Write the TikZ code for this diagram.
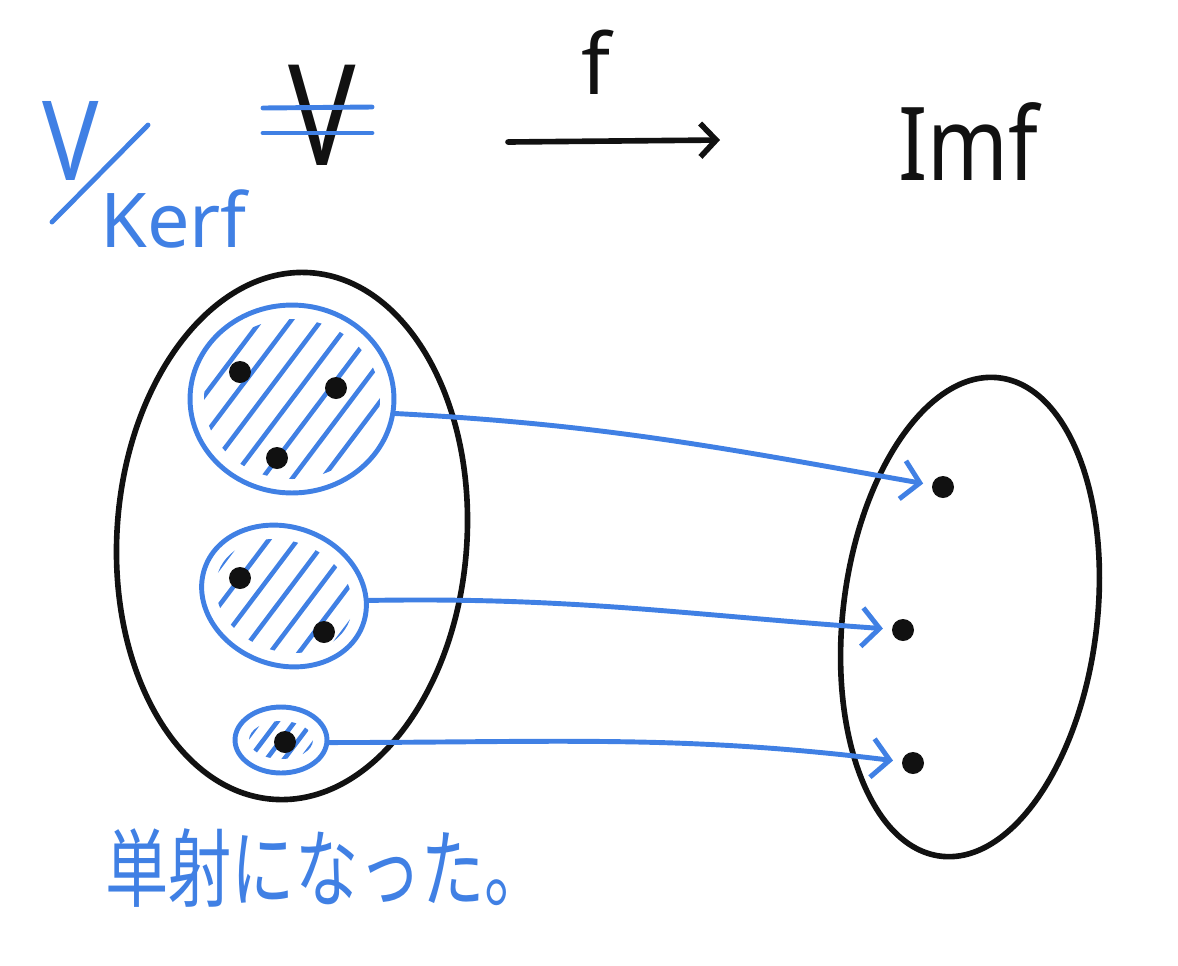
\documentclass[tikz,border=0pt]{standalone}
\usepackage{fontspec}
\setmainfont{Noto Sans}
\newfontfamily\jpfont{Noto Sans CJK JP}
\usetikzlibrary{arrows.meta,shapes.geometric}
\definecolor{penblue}{HTML}{4080E4}
\definecolor{penink}{HTML}{111111}

\begin{document}
\begin{tikzpicture}[x=0.02cm, y=-0.02cm,
    ink/.style={penink, line width=3.2pt, line cap=round},
    blueink/.style={penblue, line width=2.8pt, line cap=round},
    setshape/.style={ellipse, draw=penink, line width=3.2pt, inner sep=0pt},
    classshape/.style={ellipse, draw=penblue, line width=2.8pt, inner sep=0pt},
    elem/.style={circle, fill=penink, inner sep=0pt, minimum size=0.44cm},
    hatch/.style={penblue, line width=2.6pt, line cap=round},
    maparrow/.style={blueink, -{Straight Barb[length=10pt,width=22pt]},
                     shorten >=5pt},
    hand/.style={inner sep=0pt}]

\useasboundingbox (0,0) rectangle (1178,965);

% --- top line: quotient, V, the map f and its image -----------------------
\node[hand, penblue, anchor=base west, xscale=0.85, font=\fontsize{63}{63}\selectfont]
  (quotnum) at (42,180) {V};
\draw[blueink] (52,222) -- (148,125);
\node[hand, penblue, anchor=base west, font=\fontsize{43}{43}\selectfont]
  (quotden) at (100,247) {Kerf};
\node[hand, penink, anchor=base, xscale=0.8, font=\fontsize{80}{80}\selectfont]
  (domain) at (322,165) {V};
\draw[blueink] (263,108) -- (372,107);
\draw[blueink] (263,133) -- (372,133);

\coordinate (mapfrom) at (508,142);
\coordinate (mapto) at (720,140);
\draw[ink, -{Straight Barb[length=9pt,width=19pt]}] (mapfrom) -- (mapto);
\node[hand, penink, font=\fontsize{48}{48}\selectfont] (maplabel) at (596,62) {f};
\node[hand, penink, anchor=base west, xscale=0.85, font=\fontsize{58}{58}\selectfont]
  (image) at (898,180) {Imf};

% --- the two sets ---------------------------------------------------------
\node[setshape, rotate=-4, minimum width=7cm, minimum height=10.56cm]
  (vset) at (292,536) {};
\node[setshape, rotate=-7, minimum width=5.08cm, minimum height=9.64cm]
  (imset) at (970,617) {};

% --- classes of V/Kerf, hatched -- name/centre/radii/tilt/hatch gap --------
\foreach \name/\cx/\cy/\rx/\ry/\rot/\gap in {%
    topcls/292/399/102/94/0/24,
    midcls/284/596/84/69/-20/23,
    lowcls/281/740/46/33/0/14}
{
  \pgfmathsetmacro{\hang}{53-(\rot)}
  \node[classshape, rotate=\rot, minimum width={\rx*0.04cm},
        minimum height={\ry*0.04cm}] (\name) at (\cx,\cy) {};
  \begin{scope}[shift={(\cx,\cy)}, rotate=\rot]
    \clip (0,0) ellipse [x radius=\rx-14, y radius=\ry-14];
    \foreach \k in {-7,...,7}
      \draw[hatch, rotate=\hang] (-160,\k*\gap) -- (160,\k*\gap);
  \end{scope}
}

% --- elements -------------------------------------------------------------
\foreach \name/\px/\py in {%
    a1/240/372, a2/336/388, a3/277/458,
    b1/240/578, b2/324/632,
    c1/285/742,
    q1/943/487, q2/903/630, q3/913/763}
  \node[elem] (\name) at (\px,\py) {};

% --- induced map, now injective -------------------------------------------
\draw[maparrow] (topcls.-8) to[out=-3, in=170] (q1);
\draw[maparrow] (midcls.17) to[out=1, in=176] (q2);
\draw[maparrow] (lowcls.-3) to[out=0, in=173] (q3);

\node[hand, penblue, anchor=west, yscale=1.35, font=\jpfont\fontsize{36}{36}\selectfont]
  (verdict) at (105,868) {単射になった。};
\end{tikzpicture}
\end{document}
